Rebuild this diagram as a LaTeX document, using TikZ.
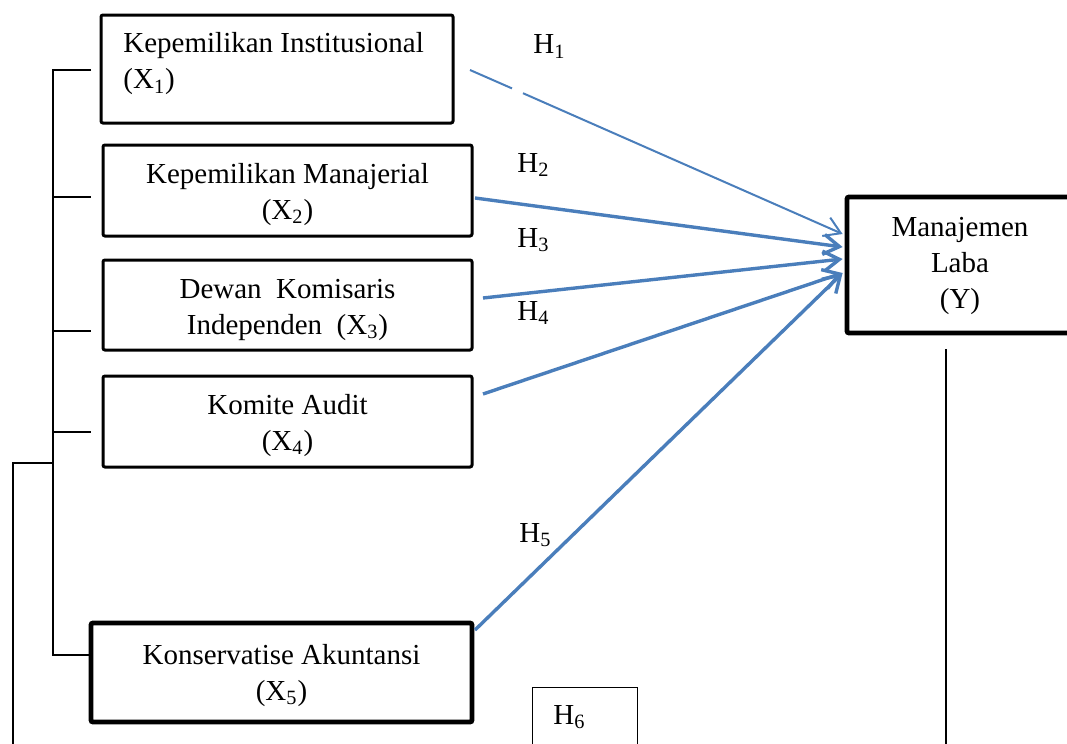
\documentclass[tikz,border=0pt]{standalone}
\usepackage{fontspec}
\setmainfont{Liberation Serif}
\usetikzlibrary{arrows.meta,calc}
\definecolor{arrblue}{HTML}{4A7EBB}
\begin{document}
\begin{tikzpicture}[x=0.5pt,y=-0.5pt,
  font=\fontsize{14.5}{18}\selectfont,
  box/.style={draw, line width=1.5pt, rectangle, inner sep=0pt, rounded corners=1pt},
  bthick/.style={box, line width=2.4pt},
  txt/.style={inner sep=0pt, align=center},
  bracket/.style={line width=0.8pt},
  hyp/.style={draw=arrblue, line width=1.7pt, -{Straight Barb[length=8pt,width=10pt]}},
  hypthin/.style={draw=arrblue, line width=1pt},
  hlab/.style={anchor=base west, inner sep=0pt}]
\useasboundingbox (0,0) rectangle (1067,744);
% boxes
\node[box, minimum width=176pt, minimum height=54pt] (b1) at (277,69) {};
\node[txt, anchor=west, align=left] (t1) at (123,64) {Kepemilikan Institusional\\(X\textsubscript{1})};
\node[box, minimum width=184.5pt, minimum height=45.5pt] (b2) at (287.5,190.5) {};
\node[txt] (t2) at ($(b2.center)+(0,4)$) {Kepemilikan Manajerial\\(X\textsubscript{2})};
\node[box, minimum width=184.5pt, minimum height=45pt] (b3) at (287.5,305) {};
\node[txt] (t3) at ($(b3.center)+(0,5)$) {Dewan\ \ Komisaris\\Independen\ \ (X\textsubscript{3})};
\node[box, minimum width=184.5pt, minimum height=45.5pt] (b4) at (287.5,421.5) {};
\node[txt] (t4) at ($(b4.center)+(0,4)$) {Komite Audit\\(X\textsubscript{4})};
\node[bthick, minimum width=190.5pt, minimum height=49.5pt] (b5) at (281.5,672.5) {};
\node[txt] (t5) at ($(b5.center)+(0,3)$) {Konservatise Akuntansi\\(X\textsubscript{5})};
\node[bthick, minimum width=113pt, minimum height=68pt] (y) at (960,265) {};
\node[txt] (ty) at ($(y.center)+(0,1)$) {Manajemen\\Laba\\(Y)};
\node[draw, line width=0.5pt, minimum width=52.5pt, minimum height=43pt, inner sep=0pt] (h6) at (584.5,730) {};
% hypothesis labels
\node[hlab] (l1) at (533,54) {H\textsubscript{1}};
\node[hlab] (l2) at (517,172) {H\textsubscript{2}};
\node[hlab] (l3) at (517,247) {H\textsubscript{3}};
\node[hlab] (l4) at (517,320) {H\textsubscript{4}};
\node[hlab] (l5) at (519,542) {H\textsubscript{5}};
\node[hlab] (l6) at (553,724) {H\textsubscript{6}};
% bracket coordinates
\coordinate (v1) at (53,70);
\coordinate (v2) at (53,197);
\coordinate (v3) at (53,331);
\coordinate (v4) at (53,432);
\coordinate (v5) at (53,655);
\coordinate (k1) at (91,70);
\coordinate (k2) at (91,197);
\coordinate (k3) at (91,331);
\coordinate (k4) at (91,432);
\coordinate (k5) at (b5.west |- v5);
\coordinate (oj) at (53,463);
\coordinate (o1) at (13,463);
\coordinate (o2) at (13,744);
\draw[bracket] (k1) -- (v1) -- (v5) -- (k5);
\draw[bracket] (v2) -- (k2);
\draw[bracket] (v3) -- (k3);
\draw[bracket] (v4) -- (k4);
\draw[bracket] (oj) -- (o1) -- (o2);
% line down from Y
\coordinate (yd0) at (946,349);
\coordinate (yd1) at (946,744);
\draw[bracket] (yd0) -- (yd1);
% arrows
\coordinate (s1) at (470,70);
\coordinate (g1) at (512,88.4);
\coordinate (g2) at (523,93.2);
\coordinate (s2) at (475,198);
\coordinate (s3) at (483,298);
\coordinate (s4) at (483,394);
\coordinate (s5) at (475,630);
\coordinate (e1) at ($(y.west)+(-2,-31)$);
\coordinate (e2) at ($(y.west)+(-2,-18)$);
\coordinate (e3) at ($(y.west)+(-2,-6)$);
\coordinate (e4) at ($(y.west)+(-2,8)$);
\draw[hypthin] (s1) -- (g1);
\draw[hyp, line width=1pt] (g2) -- (e1);
\draw[hyp] (s2) -- (e2);
\draw[hyp] (s3) -- (e3);
\draw[hyp] (s4) -- (e4);
\draw[hyp] (s5) -- (e4);
\end{tikzpicture}
\end{document}
